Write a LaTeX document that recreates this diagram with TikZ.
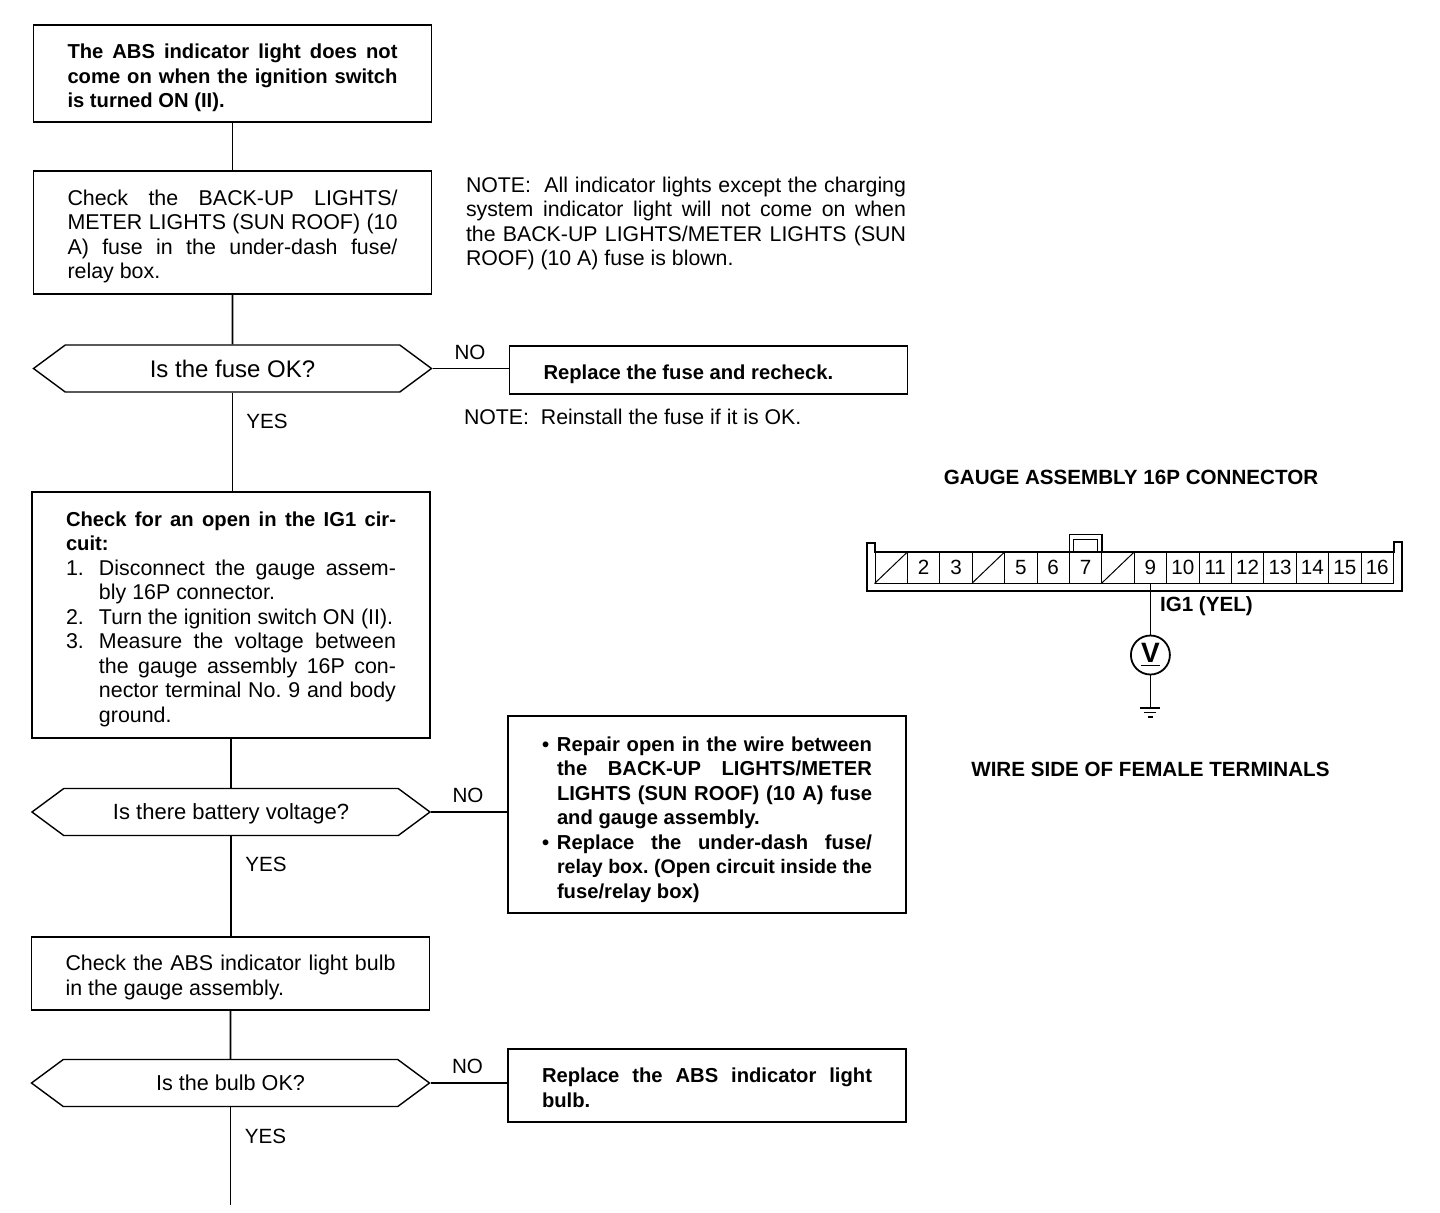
\documentclass[tikz,border=0pt]{standalone}
\usepackage{fontspec}
\setmainfont{Liberation Sans}
\usetikzlibrary{shapes.symbols,positioning}
\newcommand{\fs}[1]{\fontsize{#1}{12.25}\selectfont}
\newcommand{\bd}{\fs{10.1}\bfseries}
\newcommand{\dn}[1][11.6pt]{\rule{0pt}{#1}}
\newcommand{\itm}[3]{\par\ifdim\prevdepth>4pt\prevdepth=2.2pt\fi\noindent\hbox to #1{#2\hfil}\parbox[t]{\dimexpr\linewidth-#1\relax}{#3}}
\begin{document}
\begin{tikzpicture}[node distance=50pt]
\tikzstyle{box}=[rectangle,draw,line width=0.7pt,text width=165pt,align=justify,inner xsep=17pt,inner ysep=0pt,font=\fs{10.7}]
\tikzstyle{hex}=[signal,signal to=west and east,signal pointer angle=73,draw,line width=0.7pt,minimum width=199pt,minimum height=23.5pt,inner sep=0pt,text depth=0pt]
\tikzstyle{note}=[text width=220pt,align=justify,inner sep=0pt,font=\fs{10.65}]
\tikzstyle{lbl}=[inner sep=0pt,font=\fs{10.3}]
\tikzstyle{heading}=[inner sep=0pt,font=\fs{10.3}\bfseries]
\tikzstyle{cell}=[rectangle,draw,line width=0.5pt,minimum width=16.2pt,minimum height=15.5pt,inner sep=0pt,font=\fs{10.3}]
\tikzstyle{wire}=[line width=0.8pt]
\useasboundingbox (0,0) rectangle (720pt,-606pt);
\node[box,minimum height=48.5pt,font=\bd] (a) at (116.25pt,-36.75pt) {\dn The ABS indicator light does not\linebreak come on when the ignition switch\linebreak is turned ON (II).};
\node[box,below of=a,yshift=-29.5pt,minimum height=61.5pt] (b) {\dn Check the BACK-UP LIGHTS/\linebreak METER LIGHTS (SUN ROOF) (10\linebreak A) fuse in the under-dash fuse/\linebreak relay box.};
\node[hex,below of=b,yshift=-18pt,font=\fs{12}] (c) {Is the fuse OK?};
\node[box,below of=c,yshift=-73.25pt,xshift=-0.75pt,minimum height=123pt] (d) {\dn{\bd Check for an open in the IG1 cir-\linebreak cuit:}
\itm{16.5pt}{1.}{Disconnect the gauge assem-\linebreak bly 16P connector.}
\itm{16.5pt}{2.}{Turn the ignition switch ON (II).}
\itm{16.5pt}{3.}{Measure the voltage between\linebreak the gauge assembly 16P con-\linebreak nector terminal No.\ 9 and body\linebreak ground.}};
\node[hex,below of=d,yshift=-48.5pt,font=\fs{11}] (e) {Is there battery voltage?};
\node[box,below of=e,yshift=-30.75pt,xshift=-0.25pt,minimum height=36.5pt] (f) {\dn Check the ABS indicator light bulb\linebreak in the gauge assembly.};
\node[hex,below of=f,yshift=-4.75pt,font=\fs{10.8}] (g) {Is the bulb OK?};
\coordinate[below of=g,yshift=-11pt] (stop);
\node[box,right of=c,xshift=188pt,yshift=-0.75pt,minimum height=24pt,font=\bd] (fx) {\dn Replace the fuse and recheck.};
\node[box,right of=e,xshift=188pt,yshift=-1.25pt,minimum height=98.5pt,font=\bd] (rp) {\itm{7.5pt}{•}{Repair open in the wire between\linebreak the BACK-UP LIGHTS/METER\linebreak LIGHTS (SUN ROOF) (10 A) fuse\linebreak and gauge assembly.}
\itm{7.5pt}{•}{Replace the under-dash fuse/\linebreak {\fs{9.8}\bfseries relay box.\ (Open circuit inside the}\linebreak fuse/relay box)}};
\node[box,right of=g,xshift=188.25pt,yshift=-1.25pt,minimum height=36.5pt,font=\bd] (bb) {\dn[9.6pt]Replace the ABS indicator light\linebreak bulb.};
\node[note,right of=b,xshift=176.75pt,yshift=4.5pt] (n1) {NOTE:\ \ All indicator lights except the charging\linebreak system indicator light will not come on when\linebreak the BACK-UP LIGHTS/METER LIGHTS (SUN\linebreak ROOF) (10 A) fuse is blown.};
\node[note,below of=fx,xshift=-12.25pt,yshift=26.5pt] (n2) {NOTE:\ \ Reinstall the fuse if it is OK.};
\node[lbl,right of=c,xshift=68.75pt,yshift=8.25pt] (no1) {NO};
\node[lbl,below of=c,xshift=17.25pt,yshift=23.75pt] (yes1) {YES};
\node[lbl,right of=e,xshift=68.5pt,yshift=8.5pt] (no2) {NO};
\node[lbl,below of=e,xshift=17.5pt,yshift=24pt] (yes2) {YES};
\node[lbl,right of=g,xshift=68.5pt,yshift=8.5pt] (no3) {NO};
\node[lbl,below of=g,xshift=17.5pt,yshift=23.5pt] (yes3) {YES};
\draw[wire] (a)--(b);
\draw[wire] (b)--(c);
\draw[wire] (c.south)--(c.south |- d.north);
\draw[wire] (d)--(e);
\draw[wire] (e.south)--(e.south |- f.north);
\draw[wire] (f)--(g);
\draw[wire] (g.south)--(stop);
\draw[wire] (c.east)--(c.east -| fx.west);
\draw[wire] (e.east)--(e.east -| rp.west);
\draw[wire] (g.east)--(g.east -| bb.west);
\node[heading] (gt) at (565.5pt,-238.5pt) {GAUGE ASSEMBLY 16P CONNECTOR};
\node[cell,below of=gt,xshift=-119.9pt,yshift=4.75pt] (t1) {};
\foreach \n/\lbl [remember=\n as \p (initially 1)] in {2/2,3/3,4/,5/5,6/6,7/7,8/,9/9,10/10,11/11,12/12,13/13,14/14,15/15,16/16}
  \node[cell,right of=t\p,xshift=-33.8pt] (t\n) {\lbl};
\foreach \n in {1,4,8}
  \draw[line width=0.5pt] (t\n.south west)--(t\n.north east);
\draw[line width=1pt] ([xshift=-4pt,yshift=4.5pt]t1.north west)--([yshift=4.5pt]t1.north west)--(t1.north west)--(t16.north east)--([yshift=5pt]t16.north east)--([xshift=4pt,yshift=5pt]t16.north east)--([xshift=4pt,yshift=-3.5pt]t16.south east)--([xshift=-4pt,yshift=-3.5pt]t1.south west)--cycle;
\draw[line width=0.8pt] ([xshift=0.3pt]t7.north west)--([xshift=0.3pt,yshift=8.5pt]t7.north west)--([xshift=-0.3pt,yshift=8.5pt]t7.north east)--([xshift=-0.3pt]t7.north east);
\draw[line width=0.5pt] ([xshift=2.5pt]t7.north west)--([xshift=2.5pt,yshift=6pt]t7.north west)--([xshift=-2.5pt,yshift=6pt]t7.north east)--([xshift=-2.5pt]t7.north east);
\node[heading,right of=t9,xshift=-22pt,yshift=-19.25pt] (ig) {IG1 (YEL)};
\node[circle,draw,line width=0.9pt,minimum size=19.5pt,inner sep=0pt,below of=t9,yshift=6.25pt,font=\fs{14}\bfseries] (vm) {\underline{V}};
\coordinate[below of=vm,yshift=23.5pt] (gnd);
\draw[wire] (t9.south)--(vm.north);
\draw[line width=0.5pt] (vm.south)--(gnd);
\draw[line width=0.8pt] ([xshift=-5pt]gnd)--([xshift=5pt]gnd);
\draw[line width=0.8pt] ([xshift=-3pt,yshift=-2.3pt]gnd)--([xshift=3pt,yshift=-2.3pt]gnd);
\draw[line width=0.8pt] ([xshift=-1.3pt,yshift=-4.6pt]gnd)--([xshift=1.3pt,yshift=-4.6pt]gnd);
\node[heading,below of=gnd,yshift=19.5pt] (ws) {WIRE SIDE OF FEMALE TERMINALS};
\end{tikzpicture}
\end{document}
